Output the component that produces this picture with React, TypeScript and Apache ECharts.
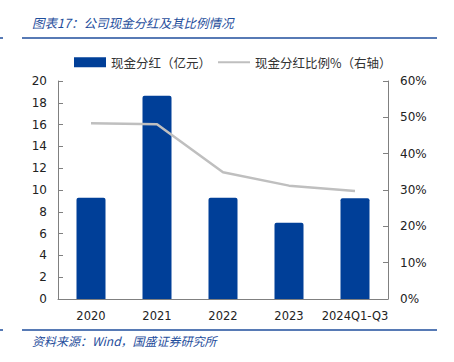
import React, { useEffect, useRef } from "react";
import * as echarts from "echarts";

const categories = ["2020", "2021", "2022", "2023", "2024Q1-Q3"];
const dividend = [9.3, 18.65, 9.3, 7.0, 9.25];
const ratio = [48.4, 48.1, 34.9, 31.2, 29.7];
const leftTicks = [0, 20, 2];
const rightTicks = [0, 60, 10];

const BLUE = "#003F98";
const TITLE_BLUE = "#1F4E9C";
const FONT = "DejaVu Sans, Verdana, sans-serif";
const CJK = "Noto Sans CJK SC, sans-serif";

export default function App() {
  const ref = useRef<HTMLDivElement>(null);
  useEffect(() => {
    if (!ref.current) return;
    const chart = echarts.init(ref.current, null, { renderer: "svg" });
    chart.setOption({
      animation: false,
      backgroundColor: "#ffffff",
      grid: { left: 58, right: 66, top: 81, bottom: 63 },
      legend: {
        left: 69,
        top: 51,
        itemWidth: 32,
        itemHeight: 10,
        itemGap: 6,
        textStyle: { fontFamily: CJK, fontSize: 12.5, color: "#333" },
        data: [
          { name: "现金分红（亿元）", icon: "rect" },
          { name: "现金分红比例%（右轴）", itemStyle: { opacity: 0 } },
        ],
      },
      xAxis: {
        type: "category",
        data: categories,
        axisLine: { lineStyle: { color: "#808080", width: 1 } },
        axisTick: { inside: true, length: 5, lineStyle: { color: "#808080" } },
        axisLabel: { interval: 0, fontFamily: FONT, fontSize: 11.5, color: "#222", margin: 11 },
      },
      yAxis: [
        {
          type: "value",
          min: leftTicks[0],
          max: leftTicks[1],
          interval: leftTicks[2],
          splitLine: { show: false },
          axisLine: { show: true, lineStyle: { color: "#808080" } },
          axisTick: { show: true, inside: true, length: 5, lineStyle: { color: "#808080" } },
          axisLabel: { fontFamily: FONT, fontSize: 12, color: "#222", margin: 11 },
        },
        {
          type: "value",
          min: rightTicks[0],
          max: rightTicks[1],
          interval: rightTicks[2],
          position: "right",
          splitLine: { show: false },
          axisLine: { show: true, lineStyle: { color: "#808080" } },
          axisTick: { show: true, inside: true, length: 5, lineStyle: { color: "#808080" } },
          axisLabel: { fontFamily: FONT, fontSize: 12, color: "#222", margin: 12, formatter: "{value}%" },
        },
      ],
      series: [
        {
          name: "现金分红（亿元）",
          type: "bar",
          data: dividend,
          barWidth: 29,
          itemStyle: { color: BLUE, borderRadius: [2, 2, 0, 0] },
        },
        {
          name: "现金分红比例%（右轴）",
          type: "line",
          yAxisIndex: 1,
          data: ratio,
          symbol: "none",
          itemStyle: { color: "#BFBFBF" },
          lineStyle: { color: "#BFBFBF", width: 2.5 },
        },
      ],
      graphic: [
        {
          type: "text",
          left: 32,
          top: 16,
          style: {
            text: "图表17：公司现金分红及其比例情况",
            fill: TITLE_BLUE,
            font: "italic 12.5px " + CJK,
          },
        },
        { type: "line", shape: { x1: 22, y1: 38, x2: 437, y2: 38 }, style: { stroke: TITLE_BLUE, lineWidth: 1.5 } },
        { type: "line", shape: { x1: 0, y1: 38, x2: 3, y2: 38 }, style: { stroke: TITLE_BLUE, lineWidth: 1.5 } },
        { type: "line", shape: { x1: 22, y1: 330, x2: 437, y2: 330 }, style: { stroke: TITLE_BLUE, lineWidth: 1.5 } },
        { type: "line", shape: { x1: 0, y1: 330, x2: 3, y2: 330 }, style: { stroke: TITLE_BLUE, lineWidth: 1.5 } },
        {
          type: "text",
          left: 32,
          top: 334,
          style: {
            text: "资料来源：Wind，国盛证券研究所",
            fill: TITLE_BLUE,
            font: "italic 12px " + CJK,
          },
        },
      ],
    });
    return () => chart.dispose();
  }, []);
  return (
    <div
      ref={ref}
      style={{ position: "absolute", left: 0, top: 0, width: 454, height: 362 }}
    />
  );
}
